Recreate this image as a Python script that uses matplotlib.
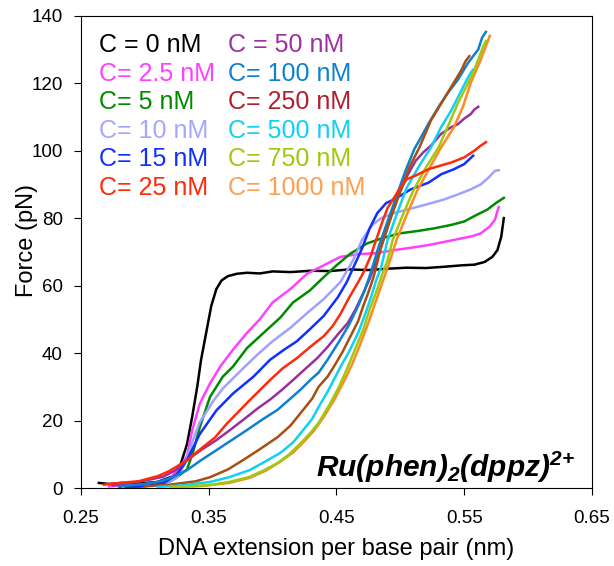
import matplotlib
matplotlib.use("Agg")
import matplotlib.pyplot as plt

# ---------------------------
# data
# ---------------------------
labels = ["C = 0 nM", "C= 2.5 nM", "C= 5 nM", "C= 10 nM", "C= 15 nM", "C= 25 nM",
          "C = 50 nM", "C= 100 nM", "C= 250 nM", "C= 500 nM", "C= 750 nM", "C= 1000 nM"]

x_0 = [0.264, 0.272, 0.282, 0.295, 0.310, 0.322, 0.328, 0.333, 0.337, 0.341, 0.344, 0.348,
       0.352, 0.356, 0.360, 0.365, 0.372, 0.380, 0.390, 0.400, 0.414, 0.430, 0.445, 0.460,
       0.475, 0.490, 0.505, 0.520, 0.535, 0.548, 0.558, 0.566, 0.572, 0.576, 0.579, 0.581]
y_0 = [1.5, 1.2, 1.5, 1.3, 1.8, 3.5, 7, 13, 21, 30, 38, 46,
       54, 59, 61.5, 62.8, 63.5, 63.8, 63.6, 64.2, 64.0, 64.4, 64.3, 64.8,
       64.6, 65.0, 65.3, 65.2, 65.6, 66.0, 66.2, 67.0, 68.5, 70.5, 74.5, 80.0]

x_2p5 = [0.272, 0.285, 0.300, 0.312, 0.320, 0.327, 0.333, 0.337, 0.343, 0.351, 0.359, 0.369,
         0.380, 0.390, 0.400, 0.414, 0.427, 0.440, 0.453, 0.467, 0.480, 0.495, 0.508, 0.522,
         0.535, 0.548, 0.556, 0.563, 0.570, 0.574, 0.577]
y_2p5 = [0.5, 0.8, 1.0, 1.5, 3, 6, 9.5, 17, 25, 31, 36, 41,
         46, 50, 55, 59, 63.5, 66, 68.5, 69.3, 69.6, 70.5, 71.2, 72.0,
         73.0, 74.0, 74.6, 75.5, 77.5, 79.5, 83.3]

x_5 = [0.280, 0.295, 0.310, 0.320, 0.326, 0.333, 0.338, 0.343, 0.351, 0.361, 0.369, 0.380,
       0.393, 0.406, 0.416, 0.429, 0.440, 0.450, 0.461, 0.474, 0.487, 0.500, 0.514, 0.527,
       0.540, 0.550, 0.560, 0.568, 0.575, 0.581]
y_5 = [0.3, 0.5, 1.0, 2.0, 3.5, 5.5, 11, 18, 27, 33, 36, 41.5,
       46, 50.5, 55, 58.5, 62.5, 66, 69.5, 72.5, 74.2, 75.5, 76.2, 77.0,
       78.0, 79.0, 81.0, 82.5, 84.5, 86.0]

x_10 = [0.283, 0.300, 0.315, 0.325, 0.331, 0.337, 0.343, 0.353, 0.361, 0.369, 0.377, 0.388,
        0.400, 0.414, 0.429, 0.440, 0.453, 0.463, 0.470, 0.478, 0.485, 0.495, 0.508, 0.520,
        0.534, 0.545, 0.555, 0.563, 0.569, 0.574, 0.577]
y_10 = [0.3, 0.6, 1.2, 3, 7, 13.5, 19.5, 25.5, 29.5, 32.5, 35.5, 39.5,
        43.5, 47.5, 52.5, 56, 61, 67.5, 73.5, 78, 80, 81.5, 82.8, 84,
        85.5, 87, 88.5, 90, 92, 94, 94.2]

x_15 = [0.285, 0.300, 0.315, 0.325, 0.333, 0.343, 0.356, 0.369, 0.385, 0.398, 0.409, 0.419,
        0.429, 0.440, 0.451, 0.458, 0.464, 0.470, 0.476, 0.482, 0.489, 0.495, 0.508, 0.522,
        0.532, 0.542, 0.550, 0.557]
y_15 = [0.2, 0.5, 1.5, 4, 8.3, 16, 23, 28, 33, 38, 41, 43.5,
        47, 51, 56.5, 61, 66, 71, 77, 81.5, 84.5, 85.5, 88.5, 90.5,
        93, 94.5, 96, 98.5]

x_25 = [0.268, 0.280, 0.295, 0.310, 0.319, 0.333, 0.345, 0.355, 0.364, 0.373, 0.382, 0.390,
        0.398, 0.408, 0.419, 0.430, 0.440, 0.447, 0.453, 0.460, 0.467, 0.472, 0.477, 0.481,
        0.486, 0.490, 0.495, 0.500, 0.505, 0.513, 0.522, 0.531, 0.540, 0.550, 0.558, 0.563, 0.567]
y_25 = [1.0, 1.5, 2.0, 3.5, 5, 8.2, 12, 15, 19, 22.5, 26, 29,
        32, 35.5, 38.5, 42, 45, 48, 51.5, 56.5, 61, 64.5, 69, 73.5,
        79, 83, 86, 89, 91.5, 92.8, 94.5, 95.5, 96.5, 98, 100, 101.5, 102.5]

x_50 = [0.275, 0.288, 0.300, 0.314, 0.325, 0.333, 0.345, 0.356, 0.366, 0.377, 0.388, 0.398,
        0.407, 0.416, 0.427, 0.435, 0.443, 0.451, 0.459, 0.465, 0.470, 0.476, 0.482, 0.488,
        0.494, 0.500, 0.506, 0.512, 0.518, 0.524, 0.532, 0.540, 0.545, 0.550, 0.555, 0.558, 0.561]
y_50 = [0.8, 1.5, 2.2, 3.3, 5.5, 8.3, 11.5, 14.2, 17, 20.2, 23.5, 26.2,
        29, 32, 35.8, 38.5, 41.8, 45.5, 49, 53, 57, 62, 68, 75,
        82, 88, 93, 97, 99.5, 101.5, 105, 107, 107.8, 109.5, 110.8, 112.2, 113.0]

x_100 = [0.280, 0.295, 0.310, 0.322, 0.333, 0.345, 0.356, 0.368, 0.380, 0.392, 0.404, 0.413,
         0.422, 0.430, 0.436, 0.443, 0.448, 0.453, 0.460, 0.467, 0.472, 0.477, 0.483, 0.490,
         0.497, 0.504, 0.511, 0.517, 0.522, 0.530, 0.537, 0.545, 0.553, 0.557, 0.561, 0.564, 0.567]
y_100 = [0.5, 1.0, 1.8, 3.2, 5.3, 8.5, 11.2, 14.2, 17.2, 20.3, 23.2, 26.2,
         29.2, 32.2, 34.2, 38, 41, 44, 48.5, 54, 58.5, 64, 71.5, 79,
         86.5, 94, 100.5, 104.5, 108, 113, 117, 121, 126, 128, 130, 133.5, 135.2]

x_250 = [0.300, 0.320, 0.340, 0.351, 0.365, 0.377, 0.390, 0.404, 0.414, 0.424, 0.431, 0.436,
         0.443, 0.448, 0.455, 0.461, 0.467, 0.471, 0.475, 0.479, 0.485, 0.492, 0.500, 0.507,
         0.515, 0.524, 0.532, 0.540, 0.548, 0.551, 0.554]
y_250 = [0.5, 1.0, 2.0, 3.2, 5.5, 8.3, 11.5, 15.1, 18.5, 23.2, 26.5, 30,
         33, 36, 40.5, 45, 49.5, 54, 58, 62.5, 71.5, 79.5, 88, 95,
         101, 109, 114, 119, 124, 126.5, 128.0]

x_500 = [0.310, 0.330, 0.351, 0.366, 0.382, 0.394, 0.406, 0.416, 0.424, 0.431, 0.436, 0.443,
         0.453, 0.460, 0.467, 0.472, 0.477, 0.481, 0.485, 0.490, 0.497, 0.505, 0.514, 0.524,
         0.532, 0.540, 0.548, 0.552, 0.555, 0.557]
y_500 = [0.3, 0.8, 1.8, 3.2, 5.3, 7.8, 10.4, 13.5, 17.2, 20.5, 24, 28.5,
         35.8, 40.5, 46, 51, 56.5, 61.5, 65.5, 73.5, 81, 89, 95, 101,
         107, 112, 118, 121, 123, 124.0]

x_750 = [0.320, 0.340, 0.351, 0.366, 0.382, 0.393, 0.404, 0.413, 0.422, 0.430, 0.436, 0.445,
         0.452, 0.459, 0.465, 0.471, 0.476, 0.482, 0.486, 0.490, 0.494, 0.502, 0.510, 0.520,
         0.530, 0.537, 0.545, 0.553, 0.558, 0.561, 0.565, 0.567]
y_750 = [0.3, 0.6, 0.9, 1.8, 3.3, 5.2, 7.4, 10, 13.3, 16.5, 19.3, 25,
         30, 36, 41.5, 47, 53, 59, 63.5, 67.5, 73.5, 81, 88, 95,
         101, 107, 114, 120, 124, 127, 131, 132.5]

x_1000 = [0.320, 0.345, 0.366, 0.382, 0.395, 0.406, 0.416, 0.424, 0.432, 0.440, 0.448, 0.455,
          0.462, 0.468, 0.474, 0.480, 0.486, 0.492, 0.497, 0.505, 0.513, 0.523, 0.532, 0.542,
          0.549, 0.555, 0.563, 0.567, 0.570]
y_1000 = [0.2, 0.6, 1.5, 3.0, 5.2, 7.8, 10.5, 13.5, 16.8, 21, 26, 31,
          36.5, 42, 48, 54.5, 61, 67.5, 73.5, 81, 88, 95, 101, 107,
          113, 120, 127, 131, 134]

xs = [x_0, x_2p5, x_5, x_10, x_15, x_25, x_50, x_100, x_250, x_500, x_750, x_1000]
ys = [y_0, y_2p5, y_5, y_10, y_15, y_25, y_50, y_100, y_250, y_500, y_750, y_1000]

line_colors = ["#000000", "#FF40FF", "#008A00", "#A0A0FF", "#1030FF", "#FF2A0A",
               "#9B2F9B", "#0E80D0", "#A84E10", "#10D0F5", "#A0C810", "#FF8A20"]
text_colors = ["#000000", "#FF40FF", "#008A00", "#A6A6FF", "#1030FF", "#FF2A0A",
               "#A030A0", "#0E80D0", "#B0202E", "#10D0F5", "#A0C810", "#FFA050"]
zorders = [2, 3, 3, 3, 3, 5, 3, 3, 3, 3, 4, 3]

x_ticks = [0.25, 0.35, 0.45, 0.55, 0.65]
y_ticks = [0, 20, 40, 60, 80, 100, 120, 140]

# ---------------------------
# plot
# ---------------------------
plt.rcParams['font.family'] = ['Liberation Sans', 'DejaVu Sans']
plt.rcParams['mathtext.fontset'] = 'custom'
plt.rcParams['mathtext.rm'] = 'Liberation Sans:bold:italic'
plt.rcParams['mathtext.it'] = 'Liberation Sans:bold:italic'
plt.rcParams['mathtext.bf'] = 'Liberation Sans:bold:italic'

fig = plt.figure(figsize=(6.14, 5.66), dpi=100)
ax = fig.add_axes([0.1319, 0.1378, 0.8322, 0.8345])

for x, y, c, z in zip(xs, ys, line_colors, zorders):
    ax.plot(x, y, color=c, lw=1.8, zorder=z)

ax.set_xlim(0.25, 0.65)
ax.set_ylim(0, 140)
ax.set_xticks(x_ticks)
ax.set_xticklabels([f"{v:.2f}" for v in x_ticks])
ax.set_yticks(y_ticks)
ax.tick_params(direction='out', length=5, width=0.8, labelsize=13.5)
ax.tick_params(axis='x', pad=11)
ax.tick_params(axis='y', pad=8)
for s in ax.spines.values():
    s.set_linewidth(0.8)

ax.set_xlabel("DNA extension per base pair (nm)", fontsize=17, labelpad=8)
ax.set_ylabel("Force (pN)", fontsize=17)
ax.yaxis.set_label_coords(-0.084, 0.525)

# legend as coloured text, two columns
for i, (lab, c) in enumerate(zip(labels, text_colors)):
    col, row = divmod(i, 6)
    ax.text(0.0358 + col * 0.2512, 0.923 - row * 0.0605, lab, color=c,
            fontsize=18, transform=ax.transAxes, va='baseline', ha='left')

ax.text(0.967, 0.024, r'$Ru(phen)_2(dppz)^{2{+}}$', fontsize=21.5,
        transform=ax.transAxes, ha='right', va='baseline')

fig.savefig("out.png", dpi=100)
